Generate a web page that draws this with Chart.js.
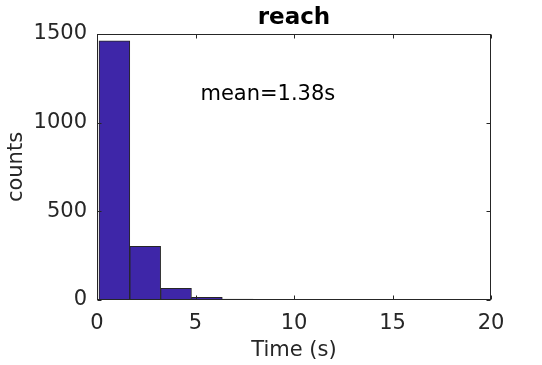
<!DOCTYPE html>
<html>
<head>
<meta charset="utf-8">
<script src="https://cdn.jsdelivr.net/npm/chart.js@4.4.1/dist/chart.umd.min.js"></script>
<style>
  html, body { margin: 0; padding: 0; background: #fff; }
  #wrap { width: 542px; height: 365px; }
</style>
</head>
<body>
<div id="wrap"><canvas id="myChart"></canvas></div>
<script>
// histogram bins (s) and counts
var binEdges = [0.1, 1.665, 3.23, 4.795, 6.36, 7.925, 9.49, 11.055, 12.62, 14.185, 15.75];
var binCounts = [1461, 303, 66, 15, 5, 4, 2, 1, 1, 1];
var xTicks = [0, 5, 10, 15, 20];
var yTicks = [0, 500, 1000, 1500];
var chartTitle = 'reach';
var meanText = 'mean=1.38s';
var meanPos = [5.25, 1160];

var axisColor = '#262626';
var fontFamily = '"DejaVu Sans", sans-serif';

var barData = binCounts.map(function(c, i) {
    return { x: (binEdges[i] + binEdges[i + 1]) / 2, y: c };
});

// box round the axes, inward ticks on all four sides, and the mean label
var matlabAxes = {
    id: 'matlabAxes',
    afterDraw: function(chart) {
        var ctx = chart.ctx;
        var a = chart.chartArea;
        var xs = chart.scales.x, ys = chart.scales.y;
        var L = Math.round(a.left) + 0.5, R = Math.round(a.right) - 0.5;
        var T = Math.round(a.top) + 0.5, B = Math.round(a.bottom) - 0.5;
        ctx.save();
        ctx.strokeStyle = axisColor;
        ctx.lineWidth = 1;
        ctx.strokeRect(L, T, R - L, B - T);
        ctx.beginPath();
        xTicks.forEach(function(v) {
            var px = Math.round(xs.getPixelForValue(v)) + 0.5;
            ctx.moveTo(px, B); ctx.lineTo(px, B - 4);
            ctx.moveTo(px, T); ctx.lineTo(px, T + 4);
        });
        yTicks.forEach(function(v) {
            var py = Math.round(ys.getPixelForValue(v)) + 0.5;
            ctx.moveTo(L, py); ctx.lineTo(L + 4, py);
            ctx.moveTo(R, py); ctx.lineTo(R - 4, py);
        });
        ctx.stroke();
        ctx.fillStyle = '#000';
        ctx.font = '21px ' + fontFamily;
        ctx.textAlign = 'left';
        ctx.textBaseline = 'middle';
        ctx.fillText(meanText, xs.getPixelForValue(meanPos[0]), ys.getPixelForValue(meanPos[1]));
        ctx.restore();
    }
};

const ctx = document.getElementById('myChart');
new Chart(ctx, {
    type: 'bar',
    data: {
        datasets: [{
            data: barData,
            backgroundColor: '#3e26a8',
            borderColor: '#262626',
            borderWidth: 1,
            borderSkipped: false,
            barPercentage: 1,
            categoryPercentage: 1
        }]
    },
    options: {
        responsive: true,
        maintainAspectRatio: false,
        animation: false,
        layout: { padding: { left: 0, right: 51, top: 0, bottom: 0 } },
        plugins: {
            legend: { display: false },
            tooltip: { enabled: false },
            title: {
                display: true,
                text: chartTitle,
                fullSize: false,
                color: '#000',
                font: { family: fontFamily, size: 23, weight: 'bold', lineHeight: 1.2 },
                padding: { top: 4.5, bottom: 1.9 }
            }
        },
        scales: {
            x: {
                type: 'linear',
                min: 0,
                max: 20,
                offset: false,
                afterBuildTicks: function(s) { s.ticks = xTicks.map(function(v) { return { value: v }; }); },
                afterFit: function(s) { s.height = 65; },
                grid: { display: false, drawTicks: false, offset: false },
                border: { display: false },
                ticks: {
                    color: axisColor, padding: 11, maxRotation: 0,
                    font: { family: fontFamily, size: 21 },
                    callback: function(v) { return String(v); }
                },
                title: { display: true, text: 'Time (s)', color: axisColor, padding: 2, font: { family: fontFamily, size: 21 } }
            },
            y: {
                type: 'linear',
                min: 0,
                max: 1500,
                afterBuildTicks: function(s) { s.ticks = yTicks.map(function(v) { return { value: v }; }); },
                afterFit: function(s) { s.width = 97; },
                grid: { display: false, drawTicks: false },
                border: { display: false },
                ticks: {
                    color: axisColor, padding: 10,
                    font: { family: fontFamily, size: 21 },
                    callback: function(v) { return String(v); }
                },
                title: { display: true, text: 'counts', color: axisColor, padding: 4, font: { family: fontFamily, size: 21 } }
            }
        }
    },
    plugins: [matlabAxes]
});
</script>
</body>
</html>
